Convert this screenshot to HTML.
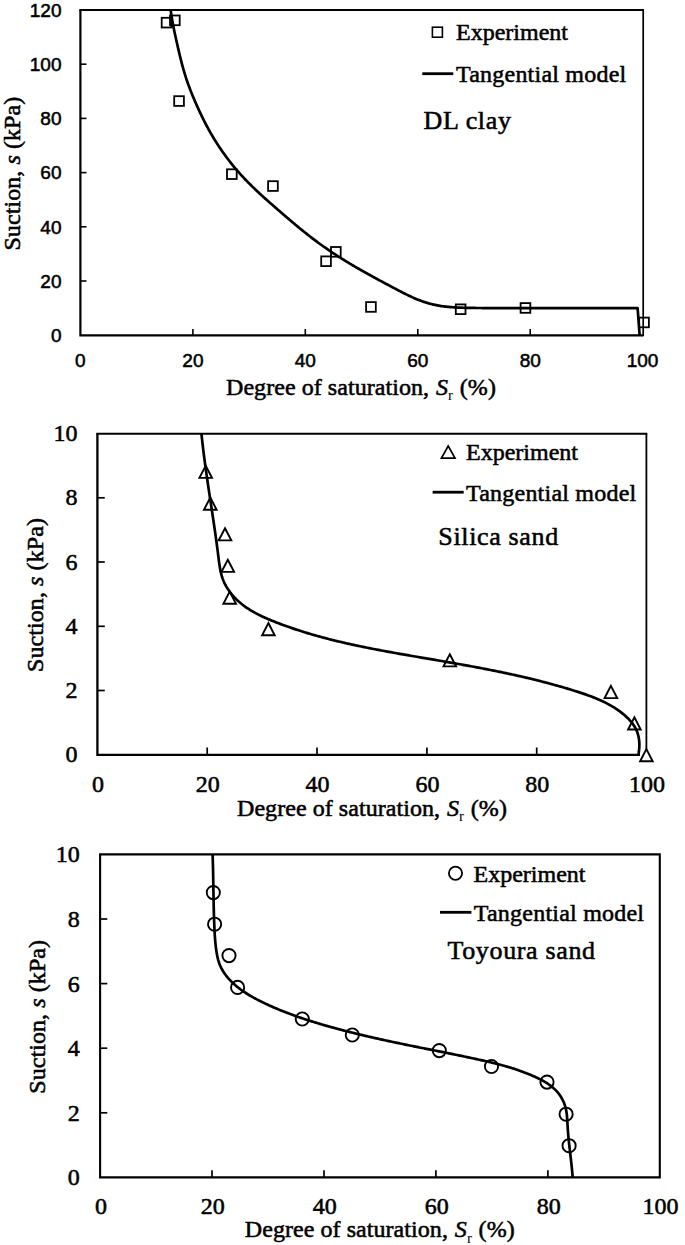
<!DOCTYPE html>
<html><head><meta charset="utf-8"><title>Soil water retention curves</title>
<style>
html,body{margin:0;padding:0;background:#fff;}
body{width:685px;height:1245px;overflow:hidden;}
svg{display:block;}
text{fill:#000;stroke:#000;stroke-width:0.55px;}
.t24{font-family:"Liberation Serif", serif;font-size:24px;}
.t26{font-family:"Liberation Serif", serif;font-size:26px;letter-spacing:0.65px;}
.s1{font-family:"Liberation Sans", sans-serif;font-size:19px;}
.sub{font-size:15px;stroke-width:0px;}
.xt{letter-spacing:0.06px;}
.yt{letter-spacing:0.08px;}
.tm{letter-spacing:0.22px;}
</style></head>
<body>
<svg width="685" height="1245" viewBox="0 0 685 1245">
<rect width="685" height="1245" fill="#fff"/>
<path d="M80.4 10 L80.4 335.3 L643 335.3" fill="none" stroke="#000" stroke-width="2.2"/>
<path d="M79.3 10 L643 10" fill="none" stroke="#000" stroke-width="2.0"/>
<path d="M643.2 9 L643.2 336.3" fill="none" stroke="#000" stroke-width="1.7"/>
<path d="M80.4 281.0 H86.5" stroke="#000" stroke-width="1.6"/>
<path d="M80.4 226.8 H86.5" stroke="#000" stroke-width="1.6"/>
<path d="M80.4 172.6 H86.5" stroke="#000" stroke-width="1.6"/>
<path d="M80.4 118.4 H86.5" stroke="#000" stroke-width="1.6"/>
<path d="M80.4 64.2 H86.5" stroke="#000" stroke-width="1.6"/>
<path d="M192.9 335 V329" stroke="#000" stroke-width="1.6"/>
<path d="M305.3 335 V329" stroke="#000" stroke-width="1.6"/>
<path d="M417.8 335 V329" stroke="#000" stroke-width="1.6"/>
<path d="M530.2 335 V329" stroke="#000" stroke-width="1.6"/>
<text x="61.5" y="342.0" text-anchor="end" class="s1">0</text>
<text x="61.5" y="287.8" text-anchor="end" class="s1">20</text>
<text x="61.5" y="233.6" text-anchor="end" class="s1">40</text>
<text x="61.5" y="179.4" text-anchor="end" class="s1">60</text>
<text x="61.5" y="125.2" text-anchor="end" class="s1">80</text>
<text x="61.5" y="71.0" text-anchor="end" class="s1">100</text>
<text x="61.5" y="16.8" text-anchor="end" class="s1">120</text>
<text x="80.4" y="366.8" text-anchor="middle" class="s1">0</text>
<text x="192.9" y="366.8" text-anchor="middle" class="s1">20</text>
<text x="305.3" y="366.8" text-anchor="middle" class="s1">40</text>
<text x="417.8" y="366.8" text-anchor="middle" class="s1">60</text>
<text x="530.2" y="366.8" text-anchor="middle" class="s1">80</text>
<text x="642.6" y="366.8" text-anchor="middle" class="s1">100</text>
<path d="M170.65 9.99 L170.82 11.27 L171.00 12.54 L171.19 13.82 L171.38 15.09 L171.58 16.36 L171.79 17.63 L172.00 18.89 L172.22 20.16 L172.44 21.42 L172.67 22.69 L172.91 23.95 L173.14 25.21 L173.39 26.47 L173.64 27.74 L173.89 29.00 L174.14 30.25 L174.40 31.51 L174.67 32.77 L174.93 34.03 L175.20 35.28 L175.48 36.54 L175.75 37.79 L176.03 39.05 L176.31 40.30 L176.59 41.56 L176.88 42.81 L177.16 44.06 L177.45 45.32 L177.74 46.57 L178.02 47.82 L178.31 49.08 L178.61 50.33 L178.90 51.58 L179.20 52.83 L179.49 54.09 L179.79 55.34 L180.10 56.59 L180.40 57.83 L180.71 59.08 L181.03 60.33 L181.34 61.57 L181.66 62.82 L181.99 64.06 L182.32 65.30 L182.66 66.54 L183.00 67.78 L183.34 69.02 L183.69 70.25 L184.05 71.49 L184.42 72.72 L184.79 73.95 L185.16 75.18 L185.55 76.40 L185.94 77.62 L186.34 78.84 L186.75 80.06 L187.16 81.28 L187.58 82.49 L188.01 83.70 L188.44 84.91 L188.88 86.12 L189.33 87.32 L189.78 88.53 L190.24 89.73 L190.71 90.92 L191.18 92.12 L191.65 93.31 L192.13 94.51 L192.62 95.70 L193.11 96.88 L193.61 98.07 L194.11 99.25 L194.62 100.44 L195.13 101.62 L195.64 102.80 L196.16 103.97 L196.68 105.15 L197.21 106.32 L197.74 107.49 L198.27 108.66 L198.81 109.83 L199.35 110.99 L199.89 112.16 L200.44 113.32 L200.99 114.48 L201.55 115.64 L202.11 116.80 L202.67 117.95 L203.24 119.10 L203.81 120.25 L204.39 121.40 L204.97 122.54 L205.56 123.68 L206.15 124.82 L206.75 125.96 L207.36 127.09 L207.97 128.22 L208.58 129.35 L209.21 130.47 L209.83 131.59 L210.47 132.71 L211.11 133.82 L211.75 134.94 L212.41 136.04 L213.07 137.15 L213.73 138.25 L214.40 139.35 L215.08 140.44 L215.76 141.53 L216.45 142.62 L217.14 143.70 L217.84 144.78 L218.54 145.86 L219.25 146.93 L219.97 148.00 L220.69 149.07 L221.42 150.13 L222.16 151.18 L222.89 152.24 L223.64 153.29 L224.39 154.33 L225.15 155.37 L225.91 156.41 L226.68 157.44 L227.45 158.47 L228.23 159.50 L229.01 160.52 L229.80 161.54 L230.59 162.55 L231.39 163.55 L232.20 164.56 L233.01 165.56 L233.82 166.55 L234.65 167.54 L235.47 168.53 L236.30 169.51 L237.14 170.48 L237.98 171.45 L238.83 172.42 L239.68 173.38 L240.54 174.34 L241.40 175.29 L242.27 176.24 L243.14 177.18 L244.02 178.12 L244.90 179.05 L245.79 179.98 L246.68 180.90 L247.58 181.82 L248.48 182.74 L249.38 183.65 L250.29 184.56 L251.20 185.46 L252.12 186.36 L253.04 187.25 L253.96 188.15 L254.89 189.04 L255.82 189.92 L256.75 190.80 L257.69 191.68 L258.63 192.56 L259.57 193.43 L260.51 194.31 L261.46 195.17 L262.41 196.04 L263.36 196.90 L264.31 197.77 L265.27 198.63 L266.23 199.48 L267.19 200.34 L268.15 201.19 L269.11 202.04 L270.08 202.90 L271.04 203.74 L272.01 204.59 L272.98 205.44 L273.95 206.29 L274.92 207.13 L275.89 207.97 L276.86 208.82 L277.83 209.66 L278.80 210.50 L279.77 211.34 L280.74 212.19 L281.72 213.03 L282.69 213.87 L283.66 214.71 L284.64 215.55 L285.61 216.38 L286.59 217.22 L287.56 218.06 L288.54 218.89 L289.52 219.72 L290.50 220.56 L291.48 221.39 L292.46 222.22 L293.44 223.04 L294.43 223.87 L295.41 224.69 L296.40 225.52 L297.39 226.34 L298.38 227.15 L299.37 227.97 L300.36 228.78 L301.35 229.60 L302.35 230.41 L303.35 231.21 L304.35 232.02 L305.35 232.82 L306.36 233.62 L307.37 234.42 L308.38 235.21 L309.39 236.00 L310.40 236.79 L311.42 237.58 L312.44 238.36 L313.46 239.14 L314.48 239.91 L315.51 240.69 L316.54 241.45 L317.58 242.22 L318.61 242.98 L319.65 243.74 L320.69 244.49 L321.74 245.24 L322.79 245.99 L323.84 246.73 L324.89 247.47 L325.95 248.21 L327.01 248.94 L328.07 249.67 L329.13 250.40 L330.20 251.12 L331.27 251.84 L332.34 252.55 L333.41 253.26 L334.49 253.97 L335.57 254.68 L336.65 255.38 L337.73 256.08 L338.81 256.77 L339.90 257.46 L340.99 258.15 L342.08 258.84 L343.17 259.52 L344.26 260.20 L345.35 260.87 L346.45 261.55 L347.55 262.22 L348.65 262.88 L349.75 263.55 L350.85 264.21 L351.96 264.86 L353.06 265.52 L354.17 266.17 L355.28 266.82 L356.38 267.46 L357.50 268.11 L358.61 268.75 L359.72 269.39 L360.83 270.03 L361.95 270.66 L363.07 271.29 L364.18 271.92 L365.30 272.55 L366.42 273.18 L367.54 273.80 L368.67 274.42 L369.79 275.05 L370.91 275.66 L372.04 276.28 L373.17 276.90 L374.29 277.51 L375.42 278.13 L376.55 278.74 L377.68 279.35 L378.81 279.96 L379.94 280.57 L381.08 281.18 L382.21 281.78 L383.34 282.39 L384.48 282.99 L385.61 283.60 L386.75 284.20 L387.89 284.81 L389.02 285.41 L390.16 286.01 L391.30 286.61 L392.44 287.22 L393.58 287.82 L394.72 288.42 L395.86 289.02 L397.01 289.62 L398.15 290.22 L399.29 290.82 L400.44 291.42 L401.58 292.01 L402.73 292.60 L403.88 293.18 L405.03 293.76 L406.19 294.34 L407.34 294.91 L408.50 295.47 L409.67 296.02 L410.83 296.57 L412.00 297.11 L413.17 297.63 L414.35 298.15 L415.52 298.66 L416.71 299.15 L417.90 299.64 L419.09 300.11 L420.28 300.56 L421.48 301.01 L422.69 301.44 L423.90 301.85 L425.12 302.25 L426.34 302.64 L427.56 303.01 L428.79 303.36 L430.02 303.70 L431.26 304.03 L432.50 304.34 L433.75 304.63 L435.00 304.91 L436.25 305.17 L437.51 305.41 L438.77 305.64 L440.04 305.85 L441.30 306.05 L442.58 306.23 L443.85 306.40 L445.13 306.56 L446.41 306.71 L447.69 306.84 L448.97 306.96 L450.25 307.08 L451.54 307.18 L452.83 307.27 L454.11 307.36 L455.40 307.44 L456.69 307.51 L457.98 307.57 L459.27 307.63 L460.56 307.68 L461.85 307.72 L463.14 307.76 L464.43 307.80 L465.72 307.83 L467.01 307.86 L468.30 307.88 L469.59 307.90 L470.88 307.92 L472.16 307.94 L473.45 307.95 L474.74 307.97 L476.03 307.98 L477.31 307.99 L478.60 308.00 L479.89 308.01 L481.17 308.02 L482.46 308.03 L483.74 308.04 L485.02 308.04 L486.31 308.05 L487.59 308.05 L488.88 308.06 L490.16 308.06 L491.44 308.07 L492.72 308.07 L494.01 308.07 L495.29 308.07 L496.57 308.08 L497.86 308.08 L499.14 308.08 L500.42 308.08 L501.70 308.08 L502.99 308.08 L504.27 308.08 L505.55 308.08 L506.84 308.08 L508.12 308.08 L509.40 308.08 L510.69 308.08 L511.97 308.08 L513.26 308.08 L514.54 308.08 L515.83 308.08 L517.11 308.08 L518.40 308.08 L519.69 308.08 L520.97 308.09 L522.26 308.09 L523.55 308.09 L524.84 308.09 L526.13 308.09 L527.42 308.10 L528.71 308.10 L530.00 308.11 L637.6 308.2 L639.6 335" fill="none" stroke="#000" stroke-width="2.7" stroke-linejoin="round"/>
<rect x="161.7" y="17.8" width="9.7" height="9.7" fill="none" stroke="#000" stroke-width="1.8"/>
<rect x="170.0" y="15.5" width="9.7" height="9.7" fill="none" stroke="#000" stroke-width="1.8"/>
<rect x="174.2" y="96.2" width="9.7" height="9.7" fill="none" stroke="#000" stroke-width="1.8"/>
<rect x="227.0" y="169.3" width="9.7" height="9.7" fill="none" stroke="#000" stroke-width="1.8"/>
<rect x="268.1" y="181.2" width="9.7" height="9.7" fill="none" stroke="#000" stroke-width="1.8"/>
<rect x="331.0" y="247.0" width="9.7" height="9.7" fill="none" stroke="#000" stroke-width="1.8"/>
<rect x="321.2" y="256.4" width="9.7" height="9.7" fill="none" stroke="#000" stroke-width="1.8"/>
<rect x="366.1" y="302.1" width="9.7" height="9.7" fill="none" stroke="#000" stroke-width="1.8"/>
<rect x="455.8" y="304.4" width="9.7" height="9.7" fill="none" stroke="#000" stroke-width="1.8"/>
<rect x="520.6" y="303.1" width="9.7" height="9.7" fill="none" stroke="#000" stroke-width="1.8"/>
<rect x="639.2" y="317.6" width="9.7" height="9.7" fill="none" stroke="#000" stroke-width="1.8"/>
<rect x="432.4" y="27.2" width="10" height="10" fill="none" stroke="#000" stroke-width="1.6"/>
<text x="456" y="39.9" class="t24">Experiment</text>
<path d="M422.3 73.7 H453.3" stroke="#000" stroke-width="2.8"/>
<text x="456" y="82.4" class="t24 tm">Tangential model</text>
<text x="423.5" y="128.8" class="t26">DL clay</text>
<text transform="translate(20.2 250.6) rotate(-90)" class="t24 yt">Suction, <tspan font-style="italic">s</tspan> (kPa)</text>
<text x="226" y="394.8" class="t24 xt">Degree of saturation, <tspan font-style="italic" dx="0.8">S</tspan><tspan class="sub" dy="5.5">r</tspan><tspan dy="-5.5" dx="0.6"> (%)</tspan></text>
<path d="M97.4 433.6 L97.4 754.8 L640 754.8" fill="none" stroke="#000" stroke-width="2.3"/>
<path d="M96.3 433.7 L647.3 433.7" fill="none" stroke="#000" stroke-width="2.0"/>
<path d="M646.4 433.7 L646.4 750" fill="none" stroke="#000" stroke-width="1.8"/>
<path d="M97.4 690.5 H104.8" stroke="#000" stroke-width="1.7"/>
<path d="M97.4 626.3 H104.8" stroke="#000" stroke-width="1.7"/>
<path d="M97.4 562.0 H104.8" stroke="#000" stroke-width="1.7"/>
<path d="M97.4 497.8 H104.8" stroke="#000" stroke-width="1.7"/>
<path d="M207.2 754.8 V747.5" stroke="#000" stroke-width="1.7"/>
<path d="M317.0 754.8 V747.5" stroke="#000" stroke-width="1.7"/>
<path d="M426.9 754.8 V747.5" stroke="#000" stroke-width="1.7"/>
<path d="M536.7 754.8 V747.5" stroke="#000" stroke-width="1.7"/>
<text x="77.4" y="762.2" text-anchor="end" class="t24">0</text>
<text x="77.4" y="698.0" text-anchor="end" class="t24">2</text>
<text x="77.4" y="633.8" text-anchor="end" class="t24">4</text>
<text x="77.4" y="569.5" text-anchor="end" class="t24">6</text>
<text x="77.4" y="505.3" text-anchor="end" class="t24">8</text>
<text x="77.4" y="441.1" text-anchor="end" class="t24">10</text>
<text x="97.9" y="792" text-anchor="middle" class="t24">0</text>
<text x="207.7" y="792" text-anchor="middle" class="t24">20</text>
<text x="317.5" y="792" text-anchor="middle" class="t24">40</text>
<text x="427.4" y="792" text-anchor="middle" class="t24">60</text>
<text x="537.2" y="792" text-anchor="middle" class="t24">80</text>
<text x="647.0" y="792" text-anchor="middle" class="t24">100</text>
<path d="M201.44 433.67 L201.61 435.24 L201.77 436.81 L201.94 438.38 L202.11 439.94 L202.28 441.51 L202.46 443.07 L202.64 444.63 L202.82 446.19 L203.01 447.75 L203.19 449.31 L203.38 450.86 L203.58 452.42 L203.77 453.97 L203.97 455.53 L204.17 457.08 L204.37 458.63 L204.57 460.18 L204.78 461.73 L204.99 463.28 L205.20 464.83 L205.41 466.38 L205.62 467.92 L205.84 469.47 L206.05 471.02 L206.27 472.56 L206.49 474.11 L206.71 475.65 L206.93 477.20 L207.16 478.74 L207.38 480.28 L207.61 481.82 L207.83 483.37 L208.06 484.91 L208.29 486.45 L208.52 487.99 L208.75 489.53 L208.98 491.08 L209.21 492.62 L209.44 494.16 L209.68 495.70 L209.91 497.24 L210.14 498.78 L210.37 500.32 L210.61 501.86 L210.84 503.40 L211.07 504.95 L211.31 506.49 L211.54 508.03 L211.77 509.57 L212.01 511.12 L212.24 512.66 L212.47 514.20 L212.70 515.75 L212.93 517.29 L213.16 518.83 L213.39 520.38 L213.62 521.93 L213.85 523.47 L214.08 525.02 L214.30 526.57 L214.53 528.11 L214.75 529.66 L214.97 531.21 L215.20 532.76 L215.42 534.32 L215.63 535.87 L215.85 537.42 L216.07 538.98 L216.28 540.53 L216.49 542.09 L216.70 543.65 L216.91 545.20 L217.12 546.76 L217.32 548.32 L217.53 549.89 L217.73 551.45 L217.92 553.01 L218.12 554.58 L218.31 556.15 L218.51 557.71 L218.70 559.28 L218.90 560.85 L219.10 562.41 L219.32 563.98 L219.55 565.53 L219.80 567.08 L220.06 568.63 L220.36 570.16 L220.68 571.68 L221.03 573.20 L221.42 574.70 L221.84 576.19 L222.31 577.66 L222.81 579.12 L223.37 580.56 L223.98 581.98 L224.63 583.38 L225.33 584.77 L226.07 586.13 L226.86 587.47 L227.69 588.79 L228.55 590.09 L229.46 591.37 L230.40 592.63 L231.37 593.86 L232.38 595.07 L233.41 596.25 L234.48 597.41 L235.57 598.54 L236.68 599.65 L237.82 600.72 L238.99 601.78 L240.17 602.80 L241.37 603.80 L242.59 604.76 L243.83 605.71 L245.08 606.63 L246.36 607.52 L247.64 608.39 L248.95 609.24 L250.26 610.07 L251.60 610.88 L252.94 611.66 L254.30 612.43 L255.67 613.18 L257.05 613.91 L258.44 614.62 L259.84 615.32 L261.25 616.01 L262.67 616.67 L264.09 617.33 L265.53 617.97 L266.97 618.60 L268.41 619.22 L269.86 619.83 L271.32 620.43 L272.78 621.02 L274.24 621.60 L275.70 622.18 L277.17 622.75 L278.63 623.31 L280.10 623.87 L281.57 624.42 L283.05 624.96 L284.52 625.50 L286.00 626.03 L287.47 626.56 L288.95 627.08 L290.43 627.60 L291.91 628.11 L293.40 628.61 L294.88 629.11 L296.37 629.60 L297.86 630.09 L299.34 630.57 L300.83 631.05 L302.33 631.52 L303.82 631.99 L305.31 632.45 L306.81 632.90 L308.31 633.36 L309.81 633.80 L311.31 634.24 L312.81 634.68 L314.31 635.11 L315.81 635.54 L317.32 635.96 L318.82 636.38 L320.33 636.80 L321.84 637.21 L323.35 637.61 L324.86 638.01 L326.37 638.41 L327.88 638.80 L329.39 639.19 L330.91 639.58 L332.42 639.96 L333.94 640.33 L335.46 640.71 L336.98 641.08 L338.50 641.44 L340.02 641.81 L341.54 642.16 L343.06 642.52 L344.58 642.87 L346.11 643.22 L347.63 643.57 L349.16 643.91 L350.68 644.25 L352.21 644.58 L353.74 644.92 L355.27 645.25 L356.79 645.57 L358.32 645.90 L359.85 646.22 L361.39 646.54 L362.92 646.85 L364.45 647.17 L365.98 647.48 L367.52 647.79 L369.05 648.09 L370.59 648.40 L372.12 648.70 L373.66 649.00 L375.19 649.30 L376.73 649.59 L378.27 649.89 L379.81 650.18 L381.34 650.47 L382.88 650.76 L384.42 651.04 L385.96 651.33 L387.50 651.61 L389.04 651.89 L390.58 652.17 L392.12 652.45 L393.66 652.73 L395.20 653.00 L396.74 653.28 L398.29 653.55 L399.83 653.82 L401.37 654.10 L402.91 654.37 L404.45 654.64 L406.00 654.91 L407.54 655.17 L409.08 655.44 L410.62 655.71 L412.17 655.98 L413.71 656.24 L415.25 656.51 L416.79 656.77 L418.34 657.04 L419.88 657.30 L421.42 657.57 L422.97 657.83 L424.51 658.09 L426.05 658.36 L427.59 658.62 L429.13 658.89 L430.68 659.15 L432.22 659.42 L433.76 659.68 L435.30 659.95 L436.84 660.21 L438.39 660.48 L439.93 660.74 L441.47 661.01 L443.01 661.28 L444.55 661.55 L446.09 661.81 L447.63 662.08 L449.17 662.35 L450.71 662.62 L452.25 662.89 L453.79 663.16 L455.33 663.44 L456.87 663.71 L458.41 663.98 L459.95 664.26 L461.49 664.53 L463.02 664.81 L464.56 665.09 L466.10 665.37 L467.64 665.65 L469.17 665.93 L470.71 666.21 L472.25 666.50 L473.78 666.78 L475.32 667.07 L476.86 667.35 L478.39 667.64 L479.93 667.94 L481.46 668.23 L483.00 668.52 L484.53 668.82 L486.06 669.11 L487.60 669.41 L489.13 669.71 L490.66 670.02 L492.19 670.32 L493.73 670.63 L495.26 670.94 L496.79 671.25 L498.32 671.56 L499.85 671.87 L501.38 672.19 L502.91 672.51 L504.44 672.83 L505.97 673.15 L507.49 673.48 L509.02 673.81 L510.55 674.14 L512.08 674.47 L513.60 674.80 L515.13 675.14 L516.65 675.48 L518.18 675.82 L519.70 676.17 L521.23 676.52 L522.75 676.87 L524.27 677.22 L525.80 677.57 L527.32 677.93 L528.84 678.30 L530.36 678.66 L531.88 679.03 L533.40 679.40 L534.92 679.77 L536.44 680.15 L537.95 680.53 L539.47 680.91 L540.99 681.30 L542.50 681.69 L544.02 682.08 L545.53 682.48 L547.05 682.88 L548.56 683.28 L550.08 683.69 L551.59 684.10 L553.10 684.51 L554.61 684.93 L556.12 685.35 L557.63 685.77 L559.14 686.20 L560.65 686.63 L562.16 687.07 L563.66 687.51 L565.17 687.95 L566.68 688.40 L568.18 688.85 L569.68 689.31 L571.19 689.77 L572.69 690.23 L574.19 690.70 L575.69 691.17 L577.19 691.65 L578.69 692.13 L580.19 692.62 L581.69 693.11 L583.18 693.62 L584.67 694.12 L586.15 694.64 L587.63 695.17 L589.11 695.70 L590.58 696.25 L592.05 696.81 L593.51 697.38 L594.96 697.96 L596.41 698.55 L597.85 699.16 L599.28 699.78 L600.70 700.41 L602.12 701.06 L603.52 701.73 L604.92 702.41 L606.31 703.11 L607.68 703.83 L609.05 704.57 L610.40 705.33 L611.75 706.10 L613.07 706.90 L614.39 707.71 L615.70 708.55 L616.99 709.41 L618.26 710.30 L619.52 711.21 L620.77 712.14 L622.00 713.09 L623.22 714.08 L624.42 715.08 L625.60 716.12 L626.76 717.18 L627.89 718.27 L628.99 719.39 L630.05 720.54 L631.08 721.72 L632.06 722.93 L632.99 724.17 L633.87 725.44 L634.69 726.74 L635.44 728.08 L636.13 729.45 L636.75 730.86 L637.30 732.30 L637.79 733.76 L638.20 735.26 L638.55 736.78 L638.83 738.31 L639.05 739.87 L639.21 741.45 L639.31 743.03 L639.35 744.63 L639.34 746.23 L639.26 747.85 L639.13 749.46 L638.95 751.07 L638.71 752.68 L638.43 754.29" fill="none" stroke="#000" stroke-width="2.7" stroke-linejoin="round"/>
<path d="M205.7 465.7 L212.0 477.9 L199.4 477.9 Z" fill="none" stroke="#000" stroke-width="1.9" stroke-linejoin="miter"/>
<path d="M210.3 497.5 L216.6 509.7 L204.0 509.7 Z" fill="none" stroke="#000" stroke-width="1.9" stroke-linejoin="miter"/>
<path d="M225.0 528.2 L231.3 540.4 L218.7 540.4 Z" fill="none" stroke="#000" stroke-width="1.9" stroke-linejoin="miter"/>
<path d="M227.8 559.7 L234.1 571.9 L221.5 571.9 Z" fill="none" stroke="#000" stroke-width="1.9" stroke-linejoin="miter"/>
<path d="M229.7 591.6 L236.0 603.8 L223.4 603.8 Z" fill="none" stroke="#000" stroke-width="1.9" stroke-linejoin="miter"/>
<path d="M268.4 623.0 L274.7 635.2 L262.1 635.2 Z" fill="none" stroke="#000" stroke-width="1.9" stroke-linejoin="miter"/>
<path d="M449.8 654.2 L456.1 666.4 L443.5 666.4 Z" fill="none" stroke="#000" stroke-width="1.9" stroke-linejoin="miter"/>
<path d="M610.9 685.9 L617.2 698.1 L604.6 698.1 Z" fill="none" stroke="#000" stroke-width="1.9" stroke-linejoin="miter"/>
<path d="M634.4 717.3 L640.7 729.5 L628.1 729.5 Z" fill="none" stroke="#000" stroke-width="1.9" stroke-linejoin="miter"/>
<path d="M646.4 749.1 L652.7 761.3 L640.1 761.3 Z" fill="#fff" stroke="#000" stroke-width="1.9" stroke-linejoin="miter"/>
<path d="M448.2 446.0 L455.0 458.2 L441.4 458.2 Z" fill="none" stroke="#000" stroke-width="1.7"/>
<text x="466" y="459.5" class="t24">Experiment</text>
<path d="M432.6 492.2 H463.7" stroke="#000" stroke-width="2.8"/>
<text x="466" y="500.7" class="t24 tm">Tangential model</text>
<text x="438.3" y="545.2" class="t26">Silica sand</text>
<text transform="translate(43.2 672.0) rotate(-90)" class="t24 yt">Suction, <tspan font-style="italic">s</tspan> (kPa)</text>
<text x="237" y="815.7" class="t24 xt">Degree of saturation, <tspan font-style="italic" dx="0.8">S</tspan><tspan class="sub" dy="5.5">r</tspan><tspan dy="-5.5" dx="0.6"> (%)</tspan></text>
<path d="M100.1 854.4 L100.1 1177.4 L659.8 1177.4 L659.8 854.4 Z" fill="none" stroke="#000" stroke-width="2.1"/>
<path d="M100.1 1112.8 H107.3" stroke="#000" stroke-width="1.7"/>
<path d="M100.1 1048.2 H107.3" stroke="#000" stroke-width="1.7"/>
<path d="M100.1 983.6 H107.3" stroke="#000" stroke-width="1.7"/>
<path d="M100.1 919.0 H107.3" stroke="#000" stroke-width="1.7"/>
<path d="M212.0 1177.4 V1170.2" stroke="#000" stroke-width="1.7"/>
<path d="M324.0 1177.4 V1170.2" stroke="#000" stroke-width="1.7"/>
<path d="M435.9 1177.4 V1170.2" stroke="#000" stroke-width="1.7"/>
<path d="M547.9 1177.4 V1170.2" stroke="#000" stroke-width="1.7"/>
<text x="79.8" y="1185.4" text-anchor="end" class="t24">0</text>
<text x="79.8" y="1120.8" text-anchor="end" class="t24">2</text>
<text x="79.8" y="1056.2" text-anchor="end" class="t24">4</text>
<text x="79.8" y="991.6" text-anchor="end" class="t24">6</text>
<text x="79.8" y="927.0" text-anchor="end" class="t24">8</text>
<text x="79.8" y="862.4" text-anchor="end" class="t24">10</text>
<text x="100.9" y="1214.2" text-anchor="middle" class="t24">0</text>
<text x="212.8" y="1214.2" text-anchor="middle" class="t24">20</text>
<text x="324.8" y="1214.2" text-anchor="middle" class="t24">40</text>
<text x="436.7" y="1214.2" text-anchor="middle" class="t24">60</text>
<text x="548.7" y="1214.2" text-anchor="middle" class="t24">80</text>
<text x="660.6" y="1214.2" text-anchor="middle" class="t24">100</text>
<path d="M212.60 854.50 L212.65 855.92 L212.70 857.34 L212.75 858.76 L212.79 860.19 L212.83 861.61 L212.87 863.03 L212.91 864.45 L212.95 865.88 L212.98 867.30 L213.02 868.72 L213.05 870.14 L213.08 871.56 L213.11 872.98 L213.14 874.41 L213.17 875.83 L213.19 877.25 L213.22 878.67 L213.24 880.09 L213.27 881.51 L213.29 882.93 L213.31 884.36 L213.34 885.78 L213.36 887.20 L213.38 888.62 L213.41 890.04 L213.43 891.46 L213.45 892.88 L213.48 894.30 L213.50 895.72 L213.53 897.14 L213.55 898.56 L213.58 899.98 L213.61 901.40 L213.64 902.83 L213.67 904.25 L213.70 905.67 L213.73 907.09 L213.76 908.51 L213.80 909.93 L213.83 911.35 L213.87 912.77 L213.91 914.19 L213.95 915.61 L214.00 917.03 L214.04 918.45 L214.09 919.87 L214.14 921.29 L214.19 922.71 L214.25 924.13 L214.31 925.55 L214.37 926.97 L214.43 928.38 L214.50 929.80 L214.57 931.22 L214.65 932.64 L214.73 934.06 L214.81 935.48 L214.91 936.90 L215.01 938.32 L215.12 939.74 L215.24 941.16 L215.37 942.58 L215.51 944.01 L215.66 945.43 L215.82 946.85 L216.00 948.27 L216.19 949.69 L216.40 951.11 L216.63 952.54 L216.87 953.96 L217.14 955.37 L217.43 956.78 L217.75 958.18 L218.10 959.57 L218.49 960.94 L218.92 962.29 L219.39 963.63 L219.91 964.94 L220.47 966.24 L221.07 967.51 L221.71 968.76 L222.39 969.99 L223.10 971.20 L223.85 972.38 L224.64 973.55 L225.46 974.70 L226.31 975.82 L227.19 976.93 L228.10 978.01 L229.03 979.08 L229.99 980.12 L230.98 981.15 L231.98 982.15 L233.01 983.14 L234.06 984.10 L235.13 985.05 L236.21 985.97 L237.31 986.88 L238.42 987.77 L239.55 988.64 L240.68 989.49 L241.84 990.32 L243.00 991.14 L244.17 991.94 L245.36 992.72 L246.56 993.49 L247.76 994.25 L248.98 994.99 L250.20 995.72 L251.44 996.43 L252.68 997.14 L253.92 997.83 L255.18 998.51 L256.44 999.18 L257.70 999.84 L258.97 1000.49 L260.25 1001.13 L261.53 1001.76 L262.81 1002.39 L264.10 1003.00 L265.38 1003.62 L266.67 1004.22 L267.96 1004.82 L269.26 1005.41 L270.56 1006.00 L271.86 1006.58 L273.16 1007.15 L274.46 1007.72 L275.77 1008.28 L277.08 1008.83 L278.39 1009.38 L279.70 1009.92 L281.01 1010.46 L282.33 1010.99 L283.65 1011.51 L284.97 1012.03 L286.29 1012.55 L287.62 1013.06 L288.95 1013.56 L290.28 1014.06 L291.61 1014.55 L292.94 1015.04 L294.27 1015.53 L295.61 1016.01 L296.95 1016.48 L298.29 1016.95 L299.63 1017.41 L300.97 1017.87 L302.31 1018.33 L303.66 1018.78 L305.01 1019.23 L306.36 1019.67 L307.71 1020.11 L309.06 1020.54 L310.41 1020.98 L311.76 1021.40 L313.12 1021.83 L314.48 1022.25 L315.83 1022.66 L317.19 1023.07 L318.55 1023.48 L319.92 1023.89 L321.28 1024.29 L322.64 1024.69 L324.01 1025.09 L325.37 1025.48 L326.74 1025.87 L328.11 1026.26 L329.48 1026.64 L330.84 1027.03 L332.22 1027.41 L333.59 1027.78 L334.96 1028.16 L336.33 1028.53 L337.70 1028.90 L339.08 1029.27 L340.45 1029.63 L341.83 1029.99 L343.20 1030.35 L344.58 1030.71 L345.96 1031.07 L347.34 1031.42 L348.71 1031.77 L350.09 1032.12 L351.47 1032.47 L352.85 1032.81 L354.24 1033.16 L355.62 1033.50 L357.00 1033.83 L358.38 1034.17 L359.76 1034.51 L361.15 1034.84 L362.53 1035.17 L363.92 1035.50 L365.30 1035.82 L366.69 1036.15 L368.07 1036.47 L369.46 1036.79 L370.84 1037.11 L372.23 1037.43 L373.62 1037.75 L375.00 1038.06 L376.39 1038.38 L377.78 1038.69 L379.17 1039.00 L380.55 1039.31 L381.94 1039.61 L383.33 1039.92 L384.72 1040.22 L386.11 1040.52 L387.50 1040.83 L388.89 1041.13 L390.27 1041.42 L391.66 1041.72 L393.05 1042.02 L394.44 1042.31 L395.83 1042.60 L397.22 1042.90 L398.61 1043.19 L400.00 1043.48 L401.39 1043.77 L402.78 1044.05 L404.17 1044.34 L405.56 1044.63 L406.95 1044.91 L408.34 1045.20 L409.73 1045.48 L411.12 1045.76 L412.51 1046.04 L413.90 1046.33 L415.29 1046.61 L416.68 1046.89 L418.07 1047.17 L419.46 1047.45 L420.85 1047.73 L422.24 1048.01 L423.64 1048.28 L425.03 1048.56 L426.42 1048.84 L427.81 1049.12 L429.21 1049.40 L430.60 1049.68 L432.00 1049.95 L433.39 1050.23 L434.78 1050.51 L436.18 1050.79 L437.57 1051.07 L438.97 1051.35 L440.37 1051.63 L441.76 1051.91 L443.16 1052.19 L444.56 1052.47 L445.96 1052.75 L447.35 1053.04 L448.75 1053.32 L450.15 1053.60 L451.55 1053.89 L452.95 1054.17 L454.34 1054.46 L455.74 1054.74 L457.14 1055.03 L458.54 1055.32 L459.93 1055.61 L461.33 1055.90 L462.73 1056.19 L464.12 1056.48 L465.52 1056.77 L466.91 1057.06 L468.31 1057.36 L469.70 1057.65 L471.09 1057.95 L472.48 1058.25 L473.87 1058.54 L475.26 1058.84 L476.65 1059.15 L478.04 1059.45 L479.42 1059.75 L480.81 1060.06 L482.19 1060.37 L483.57 1060.68 L484.95 1060.99 L486.33 1061.31 L487.71 1061.63 L489.09 1061.95 L490.46 1062.28 L491.84 1062.61 L493.21 1062.94 L494.58 1063.28 L495.95 1063.63 L497.32 1063.98 L498.69 1064.33 L500.05 1064.69 L501.42 1065.06 L502.78 1065.43 L504.14 1065.81 L505.50 1066.19 L506.86 1066.58 L508.22 1066.98 L509.57 1067.39 L510.93 1067.80 L512.28 1068.23 L513.63 1068.65 L514.98 1069.09 L516.32 1069.54 L517.67 1070.00 L519.01 1070.46 L520.35 1070.94 L521.69 1071.42 L523.03 1071.91 L524.37 1072.42 L525.70 1072.93 L527.03 1073.46 L528.36 1073.99 L529.69 1074.54 L531.02 1075.10 L532.34 1075.67 L533.67 1076.25 L534.99 1076.85 L536.30 1077.46 L537.62 1078.08 L538.92 1078.72 L540.22 1079.37 L541.50 1080.04 L542.77 1080.73 L544.03 1081.44 L545.27 1082.17 L546.49 1082.93 L547.69 1083.70 L548.87 1084.50 L550.02 1085.33 L551.15 1086.18 L552.25 1087.06 L553.32 1087.97 L554.36 1088.90 L555.37 1089.87 L556.34 1090.87 L557.28 1091.90 L558.17 1092.97 L559.03 1094.07 L559.85 1095.20 L560.62 1096.36 L561.35 1097.55 L562.04 1098.77 L562.69 1100.01 L563.29 1101.27 L563.85 1102.56 L564.37 1103.87 L564.83 1105.20 L565.26 1106.55 L565.63 1107.91 L565.96 1109.28 L566.24 1110.67 L566.47 1112.08 L566.68 1113.49 L566.85 1114.91 L566.99 1116.34 L567.11 1117.77 L567.21 1119.21 L567.30 1120.65 L567.38 1122.09 L567.46 1123.52 L567.53 1124.96 L567.62 1126.39 L567.71 1127.82 L567.80 1129.25 L567.90 1130.67 L568.01 1132.10 L568.12 1133.51 L568.24 1134.93 L568.37 1136.35 L568.50 1137.76 L568.64 1139.17 L568.78 1140.58 L568.92 1142.00 L569.07 1143.40 L569.23 1144.81 L569.38 1146.22 L569.54 1147.63 L569.70 1149.04 L569.86 1150.45 L570.03 1151.85 L570.19 1153.26 L570.35 1154.67 L570.52 1156.07 L570.68 1157.48 L570.85 1158.89 L571.01 1160.30 L571.17 1161.71 L571.32 1163.12 L571.48 1164.53 L571.63 1165.95 L571.78 1167.36 L571.92 1168.78 L572.06 1170.20 L572.19 1171.61 L572.32 1173.04 L572.45 1174.46 L572.56 1175.88 L572.67 1177.31" fill="none" stroke="#000" stroke-width="2.7" stroke-linejoin="round"/>
<circle cx="213.3" cy="892.6" r="6.6" fill="none" stroke="#000" stroke-width="1.9"/>
<circle cx="214.6" cy="924.2" r="6.6" fill="none" stroke="#000" stroke-width="1.9"/>
<circle cx="229.0" cy="955.6" r="6.6" fill="none" stroke="#000" stroke-width="1.9"/>
<circle cx="237.6" cy="987.4" r="6.6" fill="none" stroke="#000" stroke-width="1.9"/>
<circle cx="302.3" cy="1019.0" r="6.6" fill="none" stroke="#000" stroke-width="1.9"/>
<circle cx="352.3" cy="1035.0" r="6.6" fill="none" stroke="#000" stroke-width="1.9"/>
<circle cx="439.3" cy="1050.6" r="6.6" fill="none" stroke="#000" stroke-width="1.9"/>
<circle cx="491.5" cy="1066.5" r="6.6" fill="none" stroke="#000" stroke-width="1.9"/>
<circle cx="547.0" cy="1082.1" r="6.6" fill="none" stroke="#000" stroke-width="1.9"/>
<circle cx="566.1" cy="1114.2" r="6.6" fill="none" stroke="#000" stroke-width="1.9"/>
<circle cx="569.1" cy="1145.7" r="6.6" fill="none" stroke="#000" stroke-width="1.9"/>
<circle cx="455.5" cy="873.3" r="6.6" fill="none" stroke="#000" stroke-width="1.8"/>
<text x="473.5" y="882.2" class="t24">Experiment</text>
<path d="M440 912.3 H471.4" stroke="#000" stroke-width="2.8"/>
<text x="473.8" y="921" class="t24 tm">Tangential model</text>
<text x="447.5" y="959.4" class="t26">Toyoura sand</text>
<text transform="translate(44.9 1093.8) rotate(-90)" class="t24 yt">Suction, <tspan font-style="italic">s</tspan> (kPa)</text>
<text x="244.8" y="1237" class="t24 xt">Degree of saturation, <tspan font-style="italic" dx="0.8">S</tspan><tspan class="sub" dy="5.5">r</tspan><tspan dy="-5.5" dx="0.6"> (%)</tspan></text>
</svg>
</body></html>
